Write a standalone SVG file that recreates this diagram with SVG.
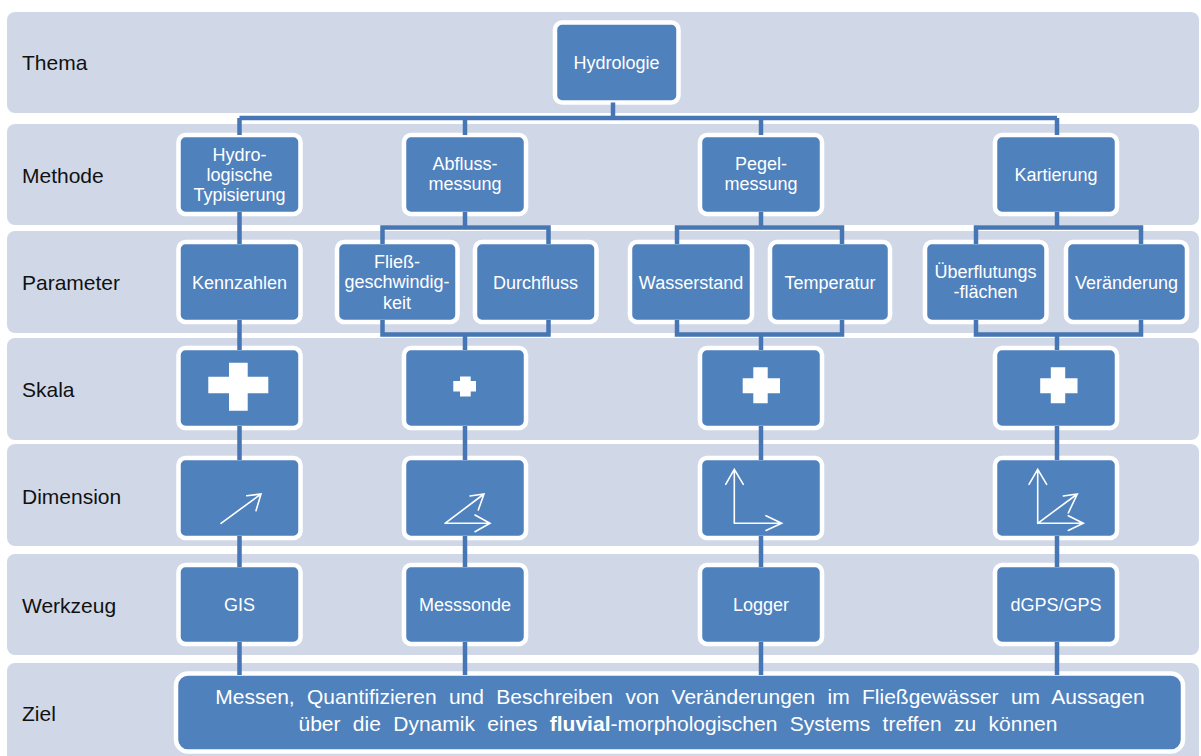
<svg xmlns="http://www.w3.org/2000/svg" width="1201" height="756" viewBox="0 0 1201 756">
<style>
.band{fill:#D0D8E8}
.box{fill:#4F81BD;stroke:#FFFFFF;stroke-width:4.5}
.lbl{font-family:"Liberation Sans",Arial,sans-serif;font-size:21px;fill:#111111}
.t{font-family:"Liberation Sans",Arial,sans-serif;font-size:18px;fill:#FFFFFF;text-anchor:middle}
.zt{font-family:"Liberation Sans",Arial,sans-serif;font-size:21px;fill:#FFFFFF;text-anchor:middle;word-spacing:6.5px}
.con{fill:none;stroke:#4676B3;stroke-width:4.5;stroke-linejoin:miter}
.arr{fill:none;stroke:#FFFFFF;stroke-width:1.6;stroke-linejoin:miter;stroke-linecap:round}
.cross{fill:#FFFFFF}
</style>
<rect width="1201" height="756" fill="#FFFFFF"/>
<g id="bands">
<rect class="band" x="7" y="12" width="1192" height="101" rx="8"/>
<rect class="band" x="7" y="124" width="1192" height="101" rx="8"/>
<rect class="band" x="7" y="231" width="1192" height="102" rx="8"/>
<rect class="band" x="7" y="338" width="1192" height="102" rx="8"/>
<rect class="band" x="7" y="444" width="1192" height="102" rx="8"/>
<rect class="band" x="7" y="554" width="1192" height="101" rx="8"/>
<rect class="band" x="7" y="663" width="1192" height="105" rx="8"/>
</g>
<g id="row-labels">
<text class="lbl" x="22" y="70">Thema</text>
<text class="lbl" x="22" y="183">Methode</text>
<text class="lbl" x="22" y="290">Parameter</text>
<text class="lbl" x="22" y="397">Skala</text>
<text class="lbl" x="22" y="504">Dimension</text>
<text class="lbl" x="22" y="613">Werkzeug</text>
<text class="lbl" x="22" y="721">Ziel</text>
</g>
<g id="n-hydrologie"><rect class="box" x="555" y="22.5" width="123.5" height="80" rx="7"/><text class="t" x="616.5" y="68.5">Hydrologie</text></g>
<g id="n-typisierung"><rect class="box" x="178.5" y="135" width="122" height="79" rx="7"/><text class="t" x="239.5" y="160.5">Hydro-</text><text class="t" x="239.5" y="180.5">logische</text><text class="t" x="239.5" y="200.5">Typisierung</text></g>
<g id="n-abfluss"><rect class="box" x="404" y="135" width="122" height="79" rx="7"/><text class="t" x="465" y="169.5">Abfluss-</text><text class="t" x="465" y="190">messung</text></g>
<g id="n-pegel"><rect class="box" x="700" y="135" width="122" height="79" rx="7"/><text class="t" x="761" y="169.5">Pegel-</text><text class="t" x="761" y="190">messung</text></g>
<g id="n-kartierung"><rect class="box" x="995" y="135" width="122" height="79" rx="7"/><text class="t" x="1056" y="181">Kartierung</text></g>
<g id="n-kennzahlen"><rect class="box" x="178.5" y="242" width="122" height="80" rx="7"/><text class="t" x="239.5" y="288.5">Kennzahlen</text></g>
<g id="n-fliess"><rect class="box" x="337" y="242" width="120.5" height="80" rx="7"/><text class="t" x="397" y="267.5">Fließ-</text><text class="t" x="397" y="288">geschwindig-</text><text class="t" x="397" y="308.5">keit</text></g>
<g id="n-durchfluss"><rect class="box" x="475" y="242" width="121.5" height="80" rx="7"/><text class="t" x="535.5" y="288.5">Durchfluss</text></g>
<g id="n-wasserstand"><rect class="box" x="630" y="242" width="122" height="80" rx="7"/><text class="t" x="691" y="288.5">Wasserstand</text></g>
<g id="n-temperatur"><rect class="box" x="770" y="242" width="120" height="80" rx="7"/><text class="t" x="830" y="288.5">Temperatur</text></g>
<g id="n-ueberflutung"><rect class="box" x="925" y="242" width="121.5" height="80" rx="7"/><text class="t" x="985.5" y="278">Überflutungs</text><text class="t" x="985.5" y="298">-flächen</text></g>
<g id="n-veraenderung"><rect class="box" x="1066" y="242" width="121" height="80" rx="7"/><text class="t" x="1126.5" y="288.5">Veränderung</text></g>
<g id="n-skala1"><rect class="box" x="178.5" y="348" width="122" height="80" rx="7"/><path class="cross" d="M229 362.7h18.7v14H268.3v16.6H247.7v17.4H229V393.3H208.3V376.7H229z"/></g>
<g id="n-skala2"><rect class="box" x="404" y="348" width="122" height="80" rx="7"/><path class="cross" d="M460 376.5h10.7v4.5H476v10.5H470.7v5H460v-5H453.3V381H460z"/></g>
<g id="n-skala3"><rect class="box" x="700" y="348" width="122" height="80" rx="7"/><path class="cross" d="M753.3 367.3h14.4v11H780v15H767.7v10H753.3v-10H742.7v-15H753.3z"/></g>
<g id="n-skala4"><rect class="box" x="995" y="348" width="122" height="80" rx="7"/><path class="cross" d="M1050.8 367.3h14.4v11H1077.5v15H1065.2v10H1050.8v-10H1040.2v-15H1050.8z"/></g>
<g id="n-dim1"><rect class="box" x="178.5" y="458" width="122" height="80" rx="7"/><path class="arr" d="M221 523.3L261 494M246.7 495.7L261 494L256 510.7"/></g>
<g id="n-dim2"><rect class="box" x="404" y="458" width="122" height="80" rx="7"/><path class="arr" d="M445 523.3L484 494M470 496L484 494L478.3 510M445 523.3H490M475 515L490 523.3L475 531.7"/></g>
<g id="n-dim3"><rect class="box" x="700" y="458" width="122" height="80" rx="7"/><path class="arr" d="M734.3 523.3V469.3M725.7 484.3L734.3 469.3L743.3 484.3M734.3 523.3H781.7M766 515.7L781.7 523.3L766 530.5"/></g>
<g id="n-dim4"><rect class="box" x="995" y="458" width="122" height="80" rx="7"/><path class="arr" d="M1037.7 523.3V469.3M1029 484.3L1037.7 469.3L1046.7 484.3M1037.7 523.3H1083.3M1068.3 515.7L1083.3 523.3L1068.3 530.5M1037.7 523.3L1077.3 494M1063.3 496L1077.3 494L1068.3 513"/></g>
<g id="n-gis"><rect class="box" x="178.5" y="565" width="122" height="79" rx="7"/><text class="t" x="239.5" y="611">GIS</text></g>
<g id="n-messsonde"><rect class="box" x="404" y="565" width="122" height="79" rx="7"/><text class="t" x="465" y="611">Messsonde</text></g>
<g id="n-logger"><rect class="box" x="700" y="565" width="122" height="79" rx="7"/><text class="t" x="761" y="611">Logger</text></g>
<g id="n-dgps"><rect class="box" x="995" y="565" width="122" height="79" rx="7"/><text class="t" x="1056" y="611">dGPS/GPS</text></g>
<g id="n-ziel"><rect class="box" x="176" y="673.5" width="1007" height="78" rx="12"/>
<text class="zt" x="680" y="704">Messen, Quantifizieren  und Beschreiben  von Veränderungen im Fließgewässer um Aussagen</text>
<text class="zt" x="678" y="731">über die Dynamik eines <tspan font-weight="bold">fluvial</tspan>-morphologischen  Systems treffen zu können</text></g>
<g id="connectors">
<path class="con" d="M613 102.5V118M239.5 118H1057M239.5 118V135M465 118V135M761 118V135M1057 118V135"/>
<path class="con" d="M239.5 212V244M239.5 320V350M239.5 426V460M239.5 536V567M239.5 642V675"/>
<path class="con" d="M465 212V227.5M382.5 244V227.5H548.5V244M382.5 320V334.5H548.5V320M465 334.5V350M465 426V460M465 536V567M465 642V675"/>
<path class="con" d="M761 212V227.5M677 244V227.5H842V244M677 320V334.5H842V320M761 334.5V350M761 426V460M761 536V567M761 642V675"/>
<path class="con" d="M1057 212V227.5M976 244V227.5H1141V244M976 320V334.5H1141V320M1057 334.5V350M1057 426V460M1057 536V567M1057 642V675"/>
</g>
</svg>
